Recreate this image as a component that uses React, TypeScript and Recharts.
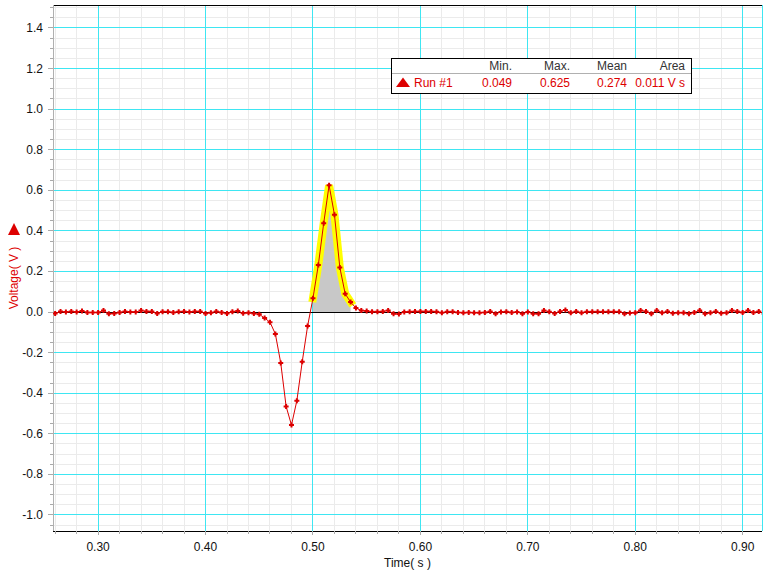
import React from "react";
import {
  ComposedChart,
  Line,
  Area,
  XAxis,
  YAxis,
  CartesianGrid,
  ReferenceLine,
} from "recharts";

// sampling grid of the run (s)
const T0 = 0.255;
const DT = 0.005;

// voltage (V)
const preVolts = [
  -0.005, -0.007, 0.003, 0.0, 0.003, 0.0, 0.005, -0.002, -0.002, -0.002,
  0.007, -0.008, -0.007, -0.002, 0.003, 0.0, 0.0, 0.007, 0.003, 0.003,
  -0.007, 0.002, 0.002, -0.002, 0.002, 0.003, 0.0, 0.003, 0.003, -0.007,
  -0.003, 0.003, -0.002, -0.007, 0.002, 0.005,
];
const pulseVolts = [
  -0.006, -0.003, -0.007, -0.011, -0.03, -0.05, -0.108, -0.251, -0.465, -0.557,
  -0.437, -0.245, -0.069, 0.068, 0.232, 0.438, 0.625, 0.48, 0.22, 0.09,
  0.049, 0.02,
];
const postVolts = [
  0.007, 0.005, 0.002, 0.002, 0.003, 0.008, -0.008, -0.01, 0.0, 0.002,
  0.003, 0.003, 0.003, 0.003, 0.002, -0.003, 0.002, 0.002, -0.002, -0.003,
  -0.002, -0.003, -0.003, -0.002, 0.003, -0.008, 0.0, 0.002, -0.002, 0.0,
  -0.008, 0.0, -0.008, -0.008, 0.007, 0.002, -0.007, 0.003, 0.01, -0.003,
  0.003, -0.003, 0.002, 0.002, 0.002, 0.002, 0.002, 0.002, 0.002, -0.008,
  -0.005, -0.003, 0.008, 0.003, -0.008, 0.008, -0.003, 0.003, -0.006, -0.003,
  -0.003, -0.008, -0.002, 0.008, -0.008, -0.003, 0.003, -0.006, -0.003, 0.008,
  0.003, -0.002, 0.008, -0.002, 0.003, -0.008, 0.003,
];

// selected region used for the statistics
const SEL_START = 0.5;
const SEL_END = 0.535;

const X_DOMAIN = [0.258, 0.918];
const Y_DOMAIN = [-1.079, 1.513];

const xMinorTicks = [
  0.26, 0.28, 0.3, 0.32, 0.34, 0.36, 0.38, 0.4, 0.42, 0.44, 0.46, 0.48, 0.5,
  0.52, 0.54, 0.56, 0.58, 0.6, 0.62, 0.64, 0.66, 0.68, 0.7, 0.72, 0.74, 0.76,
  0.78, 0.8, 0.82, 0.84, 0.86, 0.88, 0.9,
];
const xMajorTicks = [0.3, 0.4, 0.5, 0.6, 0.7, 0.8, 0.9];
const yMinorTicks = [
  -1.05, -1.0, -0.95, -0.9, -0.85, -0.8, -0.75, -0.7, -0.65, -0.6, -0.55, -0.5,
  -0.45, -0.4, -0.35, -0.3, -0.25, -0.2, -0.15, -0.1, -0.05, 0, 0.05, 0.1, 0.15,
  0.2, 0.25, 0.3, 0.35, 0.4, 0.45, 0.5, 0.55, 0.6, 0.65, 0.7, 0.75, 0.8, 0.85,
  0.9, 0.95, 1.0, 1.05, 1.1, 1.15, 1.2, 1.25, 1.3, 1.35, 1.4, 1.45, 1.5,
];
const yMajorTicks = [-1.0, -0.8, -0.6, -0.4, -0.2, 0, 0.2, 0.4, 0.6, 0.8, 1.0, 1.2, 1.4];

const statNames = ["Min.", "Max.", "Mean", "Area"];
const statValues = ["0.049", "0.625", "0.274", "0.011 V s"];
const runName = "Run #1";

const RED = "#dd0000";
const CYAN = "#3ee6f2";
const FONT = "'Liberation Sans', Arial, sans-serif";

const volts = [...preVolts, ...pulseVolts, ...postVolts];
const rows = volts.map((v, i) => {
  const t = Math.round((T0 + i * DT) * 1000) / 1000;
  const inSel = t >= SEL_START - 1e-9 && t <= SEL_END + 1e-9;
  return { t, v, sel: inSel ? v : null };
});

const isIn = (list: number[], v: number) => list.some((m) => Math.abs(m - v) < 1e-6);

function YTick(props: any) {
  const { x, y, payload } = props;
  const major = isIn(yMajorTicks, payload.value);
  return (
    <g>
      <line
        x1={x - (major ? 5 : 3)}
        x2={x}
        y1={y}
        y2={y}
        stroke="#aaaaaa"
        shapeRendering="crispEdges"
      />
      {major && (
        <text x={x - 10} y={y} dy={4} textAnchor="end" fontSize={12} fill="#111">
          {payload.value.toFixed(1)}
        </text>
      )}
    </g>
  );
}

function XTick(props: any) {
  const { x, y, payload } = props;
  const major = isIn(xMajorTicks, payload.value);
  return (
    <g>
      <line
        x1={x}
        x2={x}
        y1={y}
        y2={y + (major ? 4 : 3)}
        stroke="#aaaaaa"
        shapeRendering="crispEdges"
      />
      {major && (
        <text x={x} y={y + 20} textAnchor="middle" fontSize={12} fill="#111">
          {payload.value.toFixed(2)}
        </text>
      )}
    </g>
  );
}

function VoltLabel(props: any) {
  const vb = props.viewBox;
  if (!vb) return null;
  const cx = vb.x + 14;
  const cy = vb.y + vb.height / 2;
  return (
    <g>
      <path d={`M${cx - 6},${cy - 33} L${cx + 6},${cy - 33} L${cx},${cy - 45} Z`} fill={RED} />
      <text
        x={cx + 4}
        y={cy + 10}
        transform={`rotate(-90, ${cx + 4}, ${cy + 10})`}
        textAnchor="middle"
        fontSize={12}
        fill={RED}
      >
        Voltage( V )
      </text>
    </g>
  );
}

const renderDot = (p: any) => {
  const { cx, cy, index } = p;
  if (cx == null || cy == null) return <g key={`d${index}`} />;
  return (
    <path
      key={`d${index}`}
      d={`M${cx - 1},${cy - 2.5}h2v1.5h1.5v2h-1.5v1.5h-2v-1.5h-1.5v-2h1.5z`}
      fill={RED}
    />
  );
};

function StatsBox() {
  const cols = [121, 179, 236, 294];
  return (
    <svg
      width={302}
      height={37}
      style={{ position: "absolute", left: 391, top: 58, fontFamily: FONT }}
    >
      <rect x={0.5} y={0.5} width={300} height={35} fill="#fff" stroke="#000" />
      <line x1={1} x2={300} y1={15.5} y2={15.5} stroke="#b0b0b0" />
      {statNames.map((n, i) => (
        <text key={n} x={cols[i]} y={12} textAnchor="end" fontSize={12} fill="#333">
          {n}
        </text>
      ))}
      <path d="M5,29 L19,29 L12,19.5 Z" fill={RED} />
      <text x={23} y={29} fontSize={12} fill={RED}>
        {runName}
      </text>
      {statValues.map((s, i) => (
        <text key={i} x={cols[i]} y={29} textAnchor="end" fontSize={12} fill={RED}>
          {s}
        </text>
      ))}
    </svg>
  );
}

export default function App() {
  return (
    <div
      style={{
        position: "absolute",
        left: 0,
        top: 0,
        width: 767,
        height: 575,
        background: "#fff",
        fontFamily: FONT,
      }}
    >
      <ComposedChart
        width={767}
        height={575}
        data={rows}
        margin={{ top: 5, right: 5, bottom: 0, left: 0 }}
      >
        <CartesianGrid xAxisId="t" yAxisId="v" stroke="#ebebeb" shapeRendering="crispEdges" />
        <CartesianGrid xAxisId="tMajor" yAxisId="vMajor" stroke={CYAN} shapeRendering="crispEdges" />

        <XAxis
          xAxisId="t"
          dataKey="t"
          type="number"
          domain={X_DOMAIN}
          allowDataOverflow
          ticks={xMinorTicks}
          interval={0}
          height={44}
          tickSize={0}
          tickMargin={0}
          tickLine={false}
          tick={<XTick />}
          axisLine={{ stroke: "#000", shapeRendering: "crispEdges" }}
          label={{ value: "Time( s )", position: "insideBottom", offset: 8, fill: "#111", fontSize: 12 }}
        />
        <XAxis
          xAxisId="tMajor"
          dataKey="t"
          type="number"
          domain={X_DOMAIN}
          allowDataOverflow
          ticks={xMajorTicks}
          interval={0}
          hide
        />
        <YAxis
          yAxisId="v"
          type="number"
          domain={Y_DOMAIN}
          allowDataOverflow
          ticks={yMinorTicks}
          interval={0}
          width={53}
          tickSize={0}
          tickMargin={0}
          tickLine={false}
          tick={<YTick />}
          axisLine={{ stroke: "#b0b0b0", shapeRendering: "crispEdges" }}
          label={{ content: <VoltLabel /> }}
        />
        <YAxis
          yAxisId="vMajor"
          type="number"
          domain={Y_DOMAIN}
          allowDataOverflow
          ticks={yMajorTicks}
          interval={0}
          hide
        />

        <ReferenceLine
          xAxisId="t"
          yAxisId="v"
          y={Y_DOMAIN[1]}
          stroke="#000"
          shapeRendering="crispEdges"
        />

        <Area
          xAxisId="t"
          yAxisId="v"
          type="linear"
          dataKey="sel"
          baseValue={0}
          fill="#c8c8c8"
          fillOpacity={1}
          stroke="none"
          isAnimationActive={false}
        />
        <ReferenceLine
          xAxisId="t"
          yAxisId="v"
          y={0}
          stroke="#000"
          shapeRendering="crispEdges"
        />
        <Line
          xAxisId="t"
          yAxisId="v"
          type="linear"
          dataKey="sel"
          stroke="#ffff00"
          strokeWidth={8}
          strokeLinecap="square"
          dot={false}
          isAnimationActive={false}
        />
        <Line
          xAxisId="t"
          yAxisId="v"
          type="linear"
          dataKey="v"
          stroke={RED}
          strokeWidth={1}
          dot={renderDot}
          activeDot={false}
          isAnimationActive={false}
        />
      </ComposedChart>
      <StatsBox />
    </div>
  );
}
